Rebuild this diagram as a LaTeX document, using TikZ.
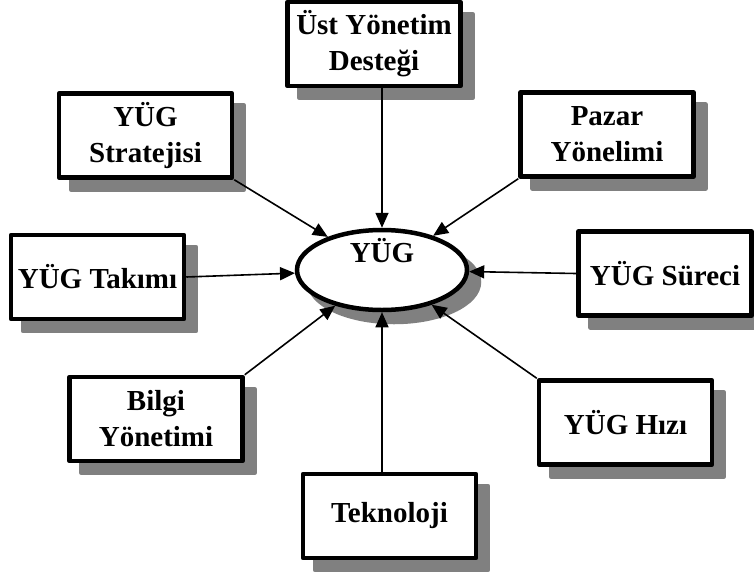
\documentclass[tikz,border=0pt]{standalone}
\usepackage{fontspec}
\setmainfont{Liberation Serif}
\usetikzlibrary{arrows.meta,shapes.geometric,shadows}

\tikzset{
  factor/.style={draw, line width=4.5pt, line join=round, fill=white,
    minimum width=173pt, minimum height=84pt, inner sep=2pt, align=center,
    font=\bfseries\fontsize{29}{36}\selectfont,
    drop shadow={shadow xshift=12pt, shadow yshift=-12pt, opacity=1,
      fill=black!50, draw=black!50, line width=4.5pt}},
  hub/.style={ellipse, draw, line width=4.5pt, fill=white,
    minimum width=170pt, minimum height=80pt, inner sep=0pt,
    drop shadow={shadow xshift=12pt, shadow yshift=-12pt, opacity=1,
      fill=black!50, draw=black!50, line width=4.5pt}}
}

\begin{document}
\begin{tikzpicture}[x=1pt,y=-1pt]
    \useasboundingbox (0,0) rectangle (754,573);

    % factors round the centre
    \node[factor] (ust)   at (374,44)    {Üst Yönetim\\Desteği};
    \node[factor] (strat) at (145.5,135.5) {YÜG\\Stratejisi};
    \node[factor] (pazar) at (607,134.5) {Pazar\\Yönelimi};
    \node[factor] (takim) at (97.5,277)  {YÜG Takımı};
    \node[factor] (surec) at (665,273.5) {YÜG Süreci};
    \node[factor] (bilgi) at (156,419)   {Bilgi\\Yönetimi};
    \node[factor] (hiz)   at (625.5,422.5) {YÜG Hızı};
    \node[factor] (tekno) at (389.5,516) {Teknoloji};

    % centre
    \node[hub] (yug) at (382,270) {};
    \node[font=\bfseries\fontsize{29}{36}\selectfont] (yuglabel) at (382,251) {YÜG};

    \foreach \from/\anc in {ust/south -| yug, strat/south east, pazar/south west,
        takim/east, surec/west, bilgi/north east, hiz/north west, tekno/north -| yug}
    \draw[->,>={Triangle[length=15pt,width=13pt]},line width=1.6pt] (\from.\anc) -- (yug);
  \end{tikzpicture}
\end{document}
